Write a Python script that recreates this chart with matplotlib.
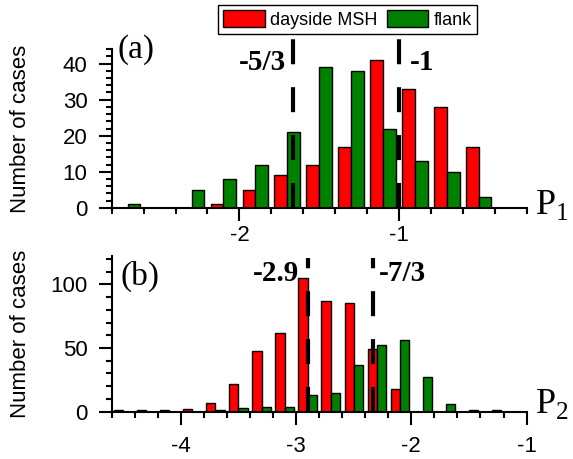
import numpy as np
import matplotlib
matplotlib.use("Agg")
import matplotlib.pyplot as plt
from matplotlib.patches import Patch
from matplotlib.ticker import MultipleLocator

plt.rcParams['font.family'] = ['Liberation Sans', 'DejaVu Sans']
plt.rcParams['mathtext.fontset'] = 'custom'
plt.rcParams['mathtext.rm'] = 'Liberation Serif'
plt.rcParams['axes.unicode_minus'] = False

# panel (a): spectral index P1, bins of 0.2
p1_bins = [-2.7, -2.5, -2.3, -2.1, -1.9, -1.7, -1.5, -1.3, -1.1, -0.9, -0.7, -0.5]
p1_dayside = [0, 0, 0, 1, 5, 9, 12, 17, 41, 33, 28, 17]
p1_flank = [1, 0, 5, 8, 12, 21, 39, 38, 22, 13, 10, 3]

# panel (b): spectral index P2
p2_bins = [-4.5, -4.3, -4.1, -3.9, -3.7, -3.5, -3.3, -3.1, -2.9, -2.7,
           -2.5, -2.3, -2.1, -1.9, -1.7, -1.5, -1.3]
p2_dayside = [1, 1, 1, 2, 7, 22, 48, 62, 105, 87, 85, 49, 18, 0, 0, 0, 0]
p2_flank = [0, 0, 0, 0, 1, 3, 4, 4, 13, 15, 37, 52, 56, 27, 6, 1, 1]

p1_marks = [-5 / 3, -1]
p1_mark_labels = ['-5/3', '-1']
p2_marks = [-2.9, -7 / 3]
p2_mark_labels = ['-2.9', '-7/3']

RED = '#ff0000'
GREEN = '#008000'
W = 0.08

fig = plt.figure(figsize=(5.73, 4.59), dpi=100)
ax1 = fig.add_axes([0.195, 0.547, 0.724, 0.346])
ax2 = fig.add_axes([0.195, 0.1031, 0.724, 0.3386])


def style(ax, xmaj, xmin, ymaj, ymin, xpad):
    for s in ['top', 'right']:
        ax.spines[s].set_visible(False)
    for s in ['left', 'bottom']:
        ax.spines[s].set_linewidth(1.5)
    ax.xaxis.set_major_locator(MultipleLocator(xmaj))
    ax.xaxis.set_minor_locator(MultipleLocator(xmin))
    ax.yaxis.set_major_locator(MultipleLocator(ymaj))
    ax.yaxis.set_minor_locator(MultipleLocator(ymin))
    ax.tick_params(which='major', length=9.5, width=1.5, labelsize=16)
    ax.tick_params(which='minor', length=4.5, width=1.5)
    ax.tick_params(axis='x', which='major', pad=xpad)
    ax.tick_params(axis='y', which='major', pad=8)
    ax.set_ylabel('Number of cases', fontsize=16)
    ax.yaxis.set_label_coords(-0.195, 0.5)


b1 = np.array(p1_bins)
ax1.bar(b1 - W / 2, p1_dayside, width=W, color=RED, edgecolor='black', linewidth=1.0)
ax1.bar(b1 + W / 2, p1_flank, width=W, color=GREEN, edgecolor='black', linewidth=1.0)
ax1.set_xlim(-2.8, -0.2)
ax1.set_ylim(0, 44)
style(ax1, 1, 0.2, 10, 2, 3)
for v in p1_marks:
    ax1.plot([v, v], [0, 48.9], color='black', lw=3, dashes=(6, 5.5), clip_on=False, zorder=5)
ax1.text(p1_marks[0] - 0.04, 38.3, p1_mark_labels[0], fontsize=21, fontweight='bold',
         family='Liberation Serif', ha='right', va='baseline')
ax1.text(p1_marks[1] + 0.07, 38.3, p1_mark_labels[1], fontsize=21, fontweight='bold',
         family='Liberation Serif', ha='left', va='baseline')
ax1.text(0.015, 1.0, '(a)', transform=ax1.transAxes, fontsize=24,
         family='Liberation Serif', ha='left', va='center')
ax1.text(1.02, -0.04, r'$\mathrm{P}_{1}$', transform=ax1.transAxes, fontsize=26,
         ha='left', va='baseline')

b2 = np.array(p2_bins)
ax2.bar(b2 - W / 2, p2_dayside, width=W, color=RED, edgecolor='black', linewidth=1.0)
ax2.bar(b2 + W / 2, p2_flank, width=W, color=GREEN, edgecolor='black', linewidth=1.0)
ax2.set_xlim(-4.6, -1.0)
ax2.set_ylim(0, 122)
style(ax2, 1, 0.2, 50, 10, 8)
for v in p2_marks:
    ax2.plot([v, v], [0, 121], color='black', lw=3, dashes=(6, 5.5), clip_on=False, zorder=5)
ax2.text(p2_marks[0] - 0.07, 102.6, p2_mark_labels[0], fontsize=21, fontweight='bold',
         family='Liberation Serif', ha='right', va='baseline')
ax2.text(p2_marks[1] + 0.05, 102.6, p2_mark_labels[1], fontsize=21, fontweight='bold',
         family='Liberation Serif', ha='left', va='baseline')
ax2.text(0.02, 0.87, '(b)', transform=ax2.transAxes, fontsize=24,
         family='Liberation Serif', ha='left', va='center')
ax2.text(1.02, -0.01, r'$\mathrm{P}_{2}$', transform=ax2.transAxes, fontsize=26,
         ha='left', va='baseline')

handles = [Patch(facecolor=RED, edgecolor='black', linewidth=1.0),
           Patch(facecolor=GREEN, edgecolor='black', linewidth=1.0)]
leg = fig.legend(handles, ['dayside MSH', 'flank'], loc='upper center',
                 bbox_to_anchor=(0.6065, 0.99), ncol=2, fontsize=13,
                 fancybox=False, framealpha=1, edgecolor='black',
                 borderpad=0.3, handlelength=2.3, handleheight=1.1,
                 handletextpad=0.3, columnspacing=0.5, borderaxespad=0)
leg.get_frame().set_linewidth(1.0)

fig.savefig('out.png', dpi=100)
